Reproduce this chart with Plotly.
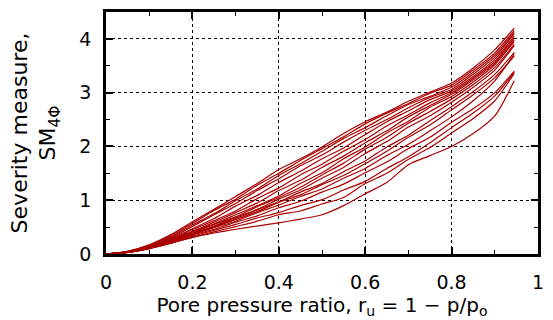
import plotly.graph_objects as go

ru = [0.0, 0.05, 0.1, 0.15, 0.2, 0.25, 0.3, 0.35, 0.4, 0.45, 0.5, 0.55, 0.6, 0.65, 0.7, 0.75, 0.8, 0.85, 0.9, 0.945]

sm_curves = [
    [0, 0.05, 0.17, 0.36, 0.60, 0.83, 1.07, 1.31, 1.57, 1.77, 1.99, 2.24, 2.46, 2.64, 2.84, 3.01, 3.18, 3.46, 3.80, 4.20],
    [0, 0.05, 0.16, 0.34, 0.57, 0.81, 1.02, 1.28, 1.50, 1.74, 1.96, 2.18, 2.42, 2.62, 2.80, 2.99, 3.14, 3.42, 3.74, 4.16],
    [0, 0.04, 0.15, 0.32, 0.54, 0.75, 0.99, 1.21, 1.46, 1.68, 1.91, 2.15, 2.35, 2.57, 2.78, 2.93, 3.10, 3.38, 3.70, 4.12],
    [0, 0.04, 0.14, 0.30, 0.51, 0.73, 0.94, 1.18, 1.40, 1.64, 1.84, 2.08, 2.30, 2.50, 2.72, 2.91, 3.06, 3.34, 3.66, 4.10],
    [0, 0.04, 0.14, 0.29, 0.47, 0.66, 0.89, 1.09, 1.33, 1.54, 1.77, 1.97, 2.22, 2.46, 2.66, 2.87, 3.03, 3.30, 3.62, 4.05],
    [0, 0.04, 0.13, 0.27, 0.45, 0.62, 0.80, 1.03, 1.23, 1.47, 1.67, 1.91, 2.13, 2.38, 2.59, 2.81, 3.00, 3.27, 3.58, 4.02],
    [0, 0.04, 0.13, 0.26, 0.42, 0.59, 0.77, 0.95, 1.18, 1.37, 1.61, 1.82, 2.07, 2.29, 2.55, 2.76, 2.97, 3.24, 3.55, 3.98],
    [0, 0.04, 0.13, 0.26, 0.41, 0.56, 0.73, 0.90, 1.08, 1.31, 1.51, 1.77, 1.99, 2.25, 2.47, 2.73, 2.93, 3.20, 3.52, 3.95],
    [0, 0.04, 0.12, 0.25, 0.39, 0.55, 0.69, 0.88, 1.05, 1.24, 1.47, 1.69, 1.95, 2.17, 2.43, 2.65, 2.88, 3.15, 3.47, 3.90],
    [0, 0.03, 0.12, 0.24, 0.38, 0.52, 0.68, 0.83, 1.02, 1.19, 1.41, 1.61, 1.87, 2.09, 2.36, 2.57, 2.82, 3.10, 3.42, 3.88],
    [0, 0.03, 0.12, 0.24, 0.37, 0.51, 0.66, 0.82, 0.97, 1.15, 1.31, 1.53, 1.73, 1.99, 2.21, 2.48, 2.74, 3.02, 3.34, 3.75],
    [0, 0.03, 0.11, 0.23, 0.37, 0.50, 0.64, 0.79, 0.96, 1.10, 1.29, 1.46, 1.68, 1.91, 2.17, 2.40, 2.68, 2.96, 3.28, 3.68],
    [0, 0.03, 0.11, 0.22, 0.36, 0.49, 0.61, 0.77, 0.91, 1.07, 1.21, 1.41, 1.59, 1.83, 2.04, 2.29, 2.55, 2.85, 3.22, 3.72],
    [0, 0.03, 0.11, 0.22, 0.35, 0.46, 0.59, 0.71, 0.86, 0.98, 1.15, 1.30, 1.51, 1.71, 1.96, 2.17, 2.45, 2.70, 3.00, 3.40],
    [0, 0.03, 0.10, 0.21, 0.33, 0.44, 0.55, 0.67, 0.77, 0.90, 1.01, 1.19, 1.35, 1.59, 1.81, 2.07, 2.35, 2.62, 2.94, 3.38],
    [0, 0.03, 0.10, 0.20, 0.31, 0.41, 0.51, 0.61, 0.73, 0.80, 0.93, 1.05, 1.31, 1.50, 1.76, 1.98, 2.25, 2.52, 2.85, 3.36],
    [0, 0.03, 0.10, 0.20, 0.31, 0.39, 0.46, 0.52, 0.58, 0.65, 0.73, 0.90, 1.12, 1.33, 1.66, 1.83, 2.00, 2.24, 2.57, 3.22],
]

x_ticks = [0, 0.2, 0.4, 0.6, 0.8, 1]
x_labels = ["0", "0.2", "0.4", "0.6", "0.8", "1"]
y_ticks = [0, 1, 2, 3, 4]
y_labels = ["0", "1", "2", "3", "4"]

FONT = "DejaVu Sans"
fig = go.Figure()
for c in sm_curves:
    fig.add_trace(go.Scatter(x=ru, y=c, mode="lines",
                             line=dict(color="#aa0000", width=1.2, shape="spline", smoothing=0.7),
                             showlegend=False, hoverinfo="skip"))
# dummy trace to anchor mirrored top/right tick axes
fig.add_trace(go.Scatter(x=[None], y=[None], xaxis="x2", yaxis="y2",
                         showlegend=False, hoverinfo="skip"))

tick_style = dict(ticks="inside", ticklen=7, tickwidth=1.5, tickcolor="black")
minor_x = dict(dtick=0.1, tick0=0, ticks="inside", ticklen=4, tickwidth=1.2, tickcolor="black", showgrid=False)
minor_y = dict(dtick=0.5, tick0=0, ticks="inside", ticklen=4, tickwidth=1.2, tickcolor="black", showgrid=False)

fig.update_layout(
    width=553, height=320,
    margin=dict(l=106, r=9, t=12, b=66),
    plot_bgcolor="white", paper_bgcolor="white",
    font=dict(family=FONT, size=19, color="black"),
    xaxis=dict(
        range=[0, 1], tickvals=x_ticks, ticktext=x_labels,
        showline=True, linecolor="black", linewidth=2.5, mirror=True,
        showgrid=True, gridcolor="black", gridwidth=1, griddash="dot",
        zeroline=False, minor=minor_x, ticklabelstandoff=9,
        tickfont=dict(family=FONT, size=19, color="black"),
        title=dict(text="Pore pressure ratio, r<sub>u</sub> = 1 − p/p<sub>o</sub>",
                   font=dict(family=FONT, size=20, color="black"), standoff=3),
        **tick_style,
    ),
    yaxis=dict(
        range=[0, 4.5], tickvals=y_ticks, ticktext=y_labels,
        showline=True, linecolor="black", linewidth=2.5, mirror=True,
        showgrid=True, gridcolor="black", gridwidth=1, griddash="dot",
        zeroline=False, minor=minor_y, ticklabelstandoff=8,
        tickfont=dict(family=FONT, size=19, color="black"),
        title=dict(text="Severity measure,<br>SM<sub>4Φ</sub>",
                   font=dict(family=FONT, size=22, color="black"), standoff=18),
        **tick_style,
    ),
    xaxis2=dict(
        overlaying="x", side="top", anchor="y2", range=[0, 1], tickvals=x_ticks,
        showticklabels=False, showgrid=False, zeroline=False, showline=False,
        minor=minor_x, **tick_style,
    ),
    yaxis2=dict(
        overlaying="y", side="right", anchor="x2", range=[0, 4.5], tickvals=y_ticks,
        showticklabels=False, showgrid=False, zeroline=False, showline=False,
        minor=minor_y, **tick_style,
    ),
)

fig.write_html("out.html")
